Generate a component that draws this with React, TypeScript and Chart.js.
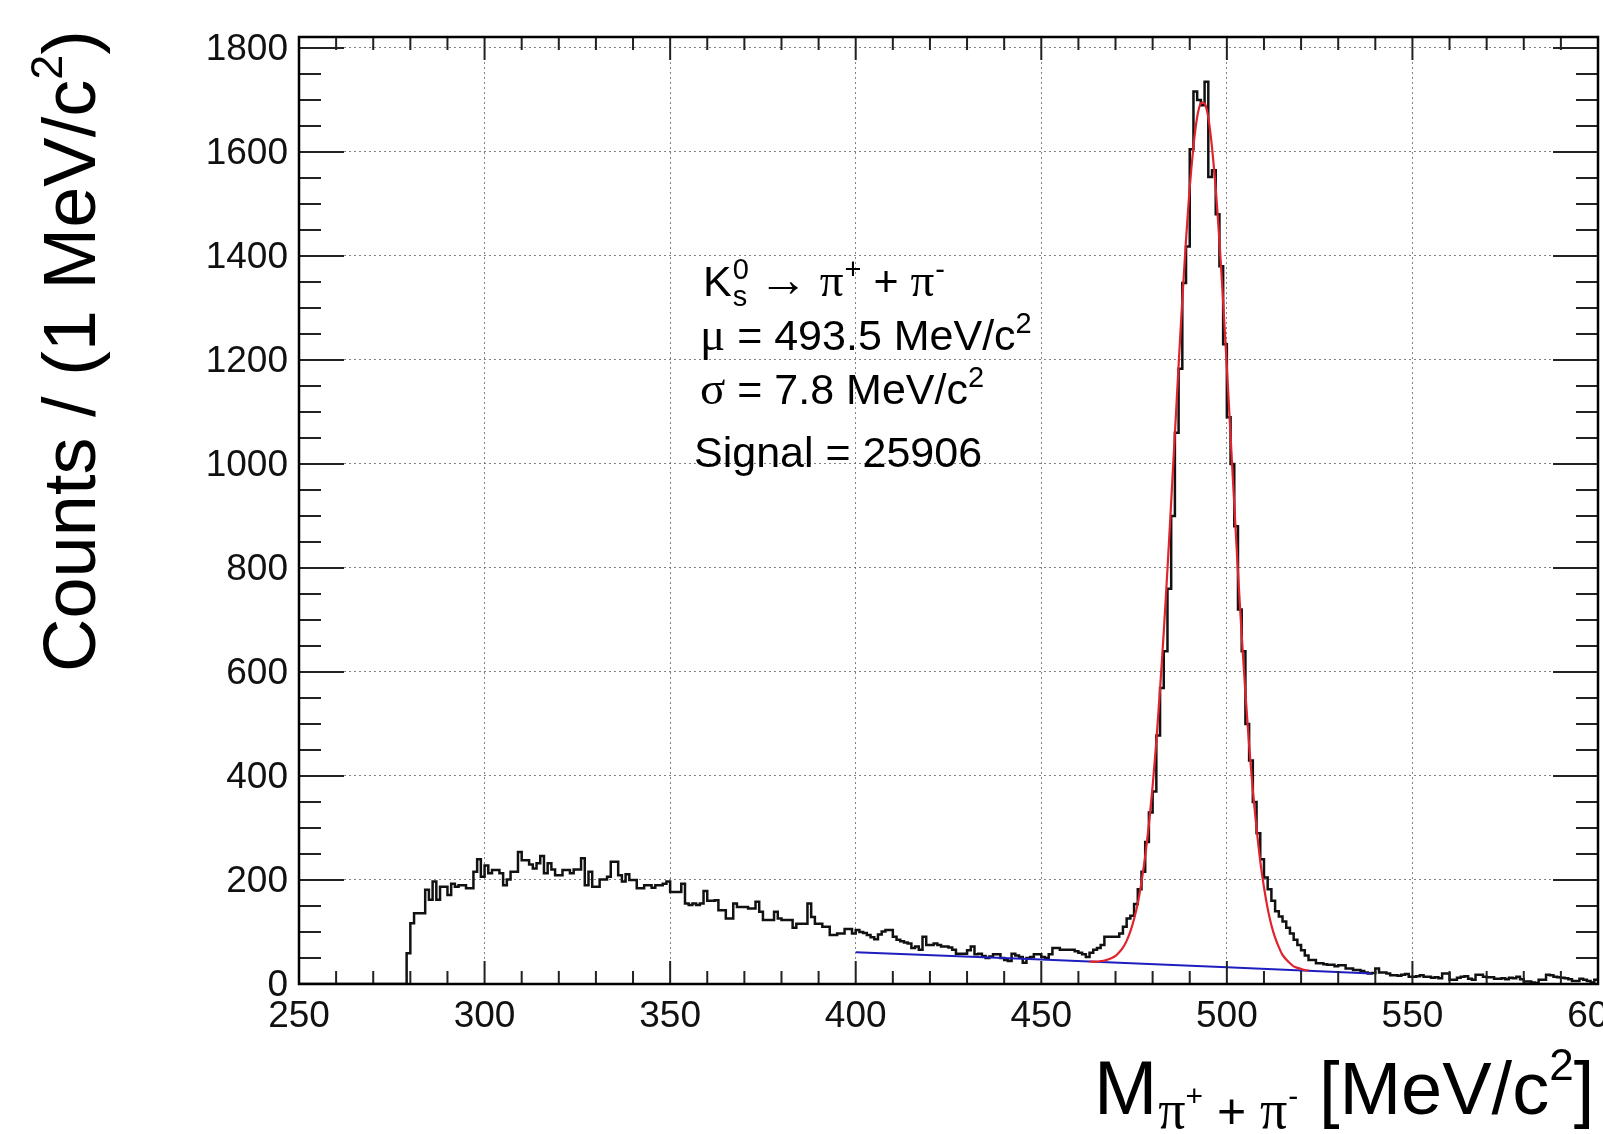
import React, { useEffect, useRef } from "react";
import { Chart, registerables } from "chart.js";

Chart.register(...registerables);

// ---------------- DATA ----------------
// Histogram: 1 MeV/c^2 bins, first bin starts at 250
const HIST_START = 250;
const BIN_WIDTH = 1;
const counts = [
  // 250-299
  0, 0, 0, 0, 0, 0, 0, 0, 0, 0,
  0, 0, 0, 0, 0, 0, 0, 0, 0, 0,
  0, 0, 0, 0, 0, 0, 0, 0, 0, 59,
  117, 136, 136, 136, 181, 162, 197, 162, 187, 187,
  171, 193, 187, 190, 190, 184, 184, 216, 240, 206,
  // 300-349
  228, 213, 219, 219, 213, 190, 201, 216, 216, 254,
  238, 238, 230, 222, 232, 246, 213, 232, 220, 209,
  209, 219, 219, 213, 220, 220, 242, 190, 216, 187,
  187, 201, 201, 206, 235, 235, 209, 197, 211, 200,
  200, 184, 184, 190, 190, 185, 190, 190, 193, 197,
  // 350-399
  177, 177, 177, 193, 155, 152, 155, 152, 155, 179,
  160, 160, 161, 142, 142, 126, 126, 155, 148, 148,
  148, 145, 145, 158, 139, 123, 123, 123, 139, 126,
  123, 123, 123, 108, 116, 116, 116, 155, 129, 116,
  116, 110, 110, 94, 94, 97, 97, 106, 106, 97,
  // 400-449
  104, 100, 98, 94, 90, 86, 95, 101, 104, 104,
  91, 85, 82, 80, 78, 69, 72, 66, 91, 75,
  75, 78, 75, 72, 72, 70, 66, 58, 58, 58,
  65, 72, 57, 58, 54, 50, 53, 57, 57, 50,
  46, 44, 58, 55, 52, 41, 50, 52, 57, 57,
  // 450-499
  52, 50, 57, 69, 69, 66, 66, 66, 66, 63,
  60, 57, 52, 60, 66, 69, 75, 91, 91, 91,
  91, 97, 110, 126, 131, 154, 182, 216, 273, 330,
  370, 478, 569, 640, 760, 900, 1060, 1183, 1348, 1418,
  1605, 1716, 1700, 1690, 1735, 1552, 1565, 1480, 1380, 1230,
  // 500-549
  1090, 1000, 880, 720, 640, 500, 430, 350, 290, 240,
  205, 182, 160, 140, 130, 120, 108, 97, 85, 75,
  65, 55, 46, 46, 40, 40, 38, 37, 37, 34,
  36, 36, 30, 30, 27, 27, 25, 22, 20, 21,
  30, 22, 22, 20, 17, 17, 16, 18, 19, 14,
  // 550-599
  14, 15, 17, 14, 14, 12, 13, 11, 20, 20,
  8, 8, 12, 14, 15, 10, 8, 18, 18, 14,
  13, 13, 10, 10, 11, 9, 12, 11, 14, 9,
  5, 5, 3, 2, 8, 8, 18, 17, 14, 13,
  12, 11, 9, 6, 6, 10, 8, 6, 3, 8,
];

// Signal + background fit curve (red), sampled every 1 MeV from 463
const FIT_START = 463;
const fitValues = [
  43, 43, 43, 44, 45, 47, 50, 54, 61, 70,
  83, 101, 125, 155, 196, 246, 307, 381, 467, 567,
  677, 798, 927, 1058, 1190, 1316, 1431, 1532, 1611, 1667,
  1694, 1694, 1666, 1609, 1530, 1429, 1312, 1186, 1054, 921,
  792, 671, 560, 459, 373, 299, 236, 186, 145, 113,
  89, 71, 56, 47, 40, 34, 31, 29, 27, 26,
];

// Background fit (blue)
const bkgMass = [400, 450, 500, 539];
const bkgValues = [61, 47, 32, 20];

// Axes
const X_MIN = 250;
const X_MAX = 600;
const Y_MIN = 0;
const Y_MAX = 1821;
const xTickLabels = [250, 300, 350, 400, 450, 500, 550, 600];
const yTickLabels = [0, 200, 400, 600, 800, 1000, 1200, 1400, 1600, 1800];
const X_MINOR_STEP = 10;
const Y_MINOR_STEP = 50;

// Texts
const fitMu = "493.5";
const fitSigma = "7.8";
const fitSignal = "25906";

const FONT = '"Liberation Sans", Arial, Helvetica, "DejaVu Sans", sans-serif';
const SERIF = '"Liberation Serif", "Times New Roman", "DejaVu Serif", serif';
const ARROW_FONT = '"Liberation Sans", "DejaVu Sans", sans-serif';

// ---------------- DRAW HELPERS ----------------
type Piece = { t: string; size: number; dy?: number; gap?: number; family?: string };

function drawPieces(ctx: CanvasRenderingContext2D, pieces: Piece[], x: number, y: number) {
  let cx = x;
  for (const p of pieces) {
    ctx.font = `${p.size}px ${p.family ?? FONT}`;
    cx += p.gap ?? 0;
    ctx.fillText(p.t, cx, y + (p.dy ?? 0));
    cx += ctx.measureText(p.t).width;
  }
  return cx;
}

const rootFramePlugin = {
  id: "rootFrame",
  afterDraw(chart: any) {
    const ctx: CanvasRenderingContext2D = chart.ctx;
    const a = chart.chartArea;
    const xs = chart.scales.x;
    const ys = chart.scales.y;
    ctx.save();

    // inner ticks on all four sides
    ctx.strokeStyle = "#222";
    ctx.lineWidth = 2;
    ctx.beginPath();
    for (let v = X_MIN; v <= X_MAX + 1e-6; v += X_MINOR_STEP) {
      const px = xs.getPixelForValue(v);
      const len = v % 50 === 0 ? 23 : 13;
      ctx.moveTo(px, a.bottom);
      ctx.lineTo(px, a.bottom - len);
      ctx.moveTo(px, a.top);
      ctx.lineTo(px, a.top + len);
    }
    for (let v = 0; v <= 1800 + 1e-6; v += Y_MINOR_STEP) {
      const py = ys.getPixelForValue(v);
      const len = v % 200 === 0 ? 45 : 22;
      ctx.moveTo(a.left, py);
      ctx.lineTo(a.left + len, py);
      ctx.moveTo(a.right, py);
      ctx.lineTo(a.right - len, py);
    }
    ctx.stroke();

    // frame
    ctx.strokeStyle = "#000";
    ctx.lineWidth = 2.5;
    ctx.strokeRect(a.left, a.top, a.right - a.left, a.bottom - a.top);

    // tick labels
    ctx.fillStyle = "#111";
    ctx.font = `37px ${FONT}`;
    ctx.textAlign = "right";
    ctx.textBaseline = "middle";
    yTickLabels.forEach((v) => ctx.fillText(String(v), a.left - 11, ys.getPixelForValue(v) + 2));
    ctx.textAlign = "center";
    ctx.textBaseline = "alphabetic";
    xTickLabels.forEach((v) => ctx.fillText(String(v), xs.getPixelForValue(v), a.bottom + 43));

    // annotation
    ctx.textAlign = "left";
    ctx.fillStyle = "#000";
    const F = 43;
    const FS = 29;
    const b1 = 296;
    ctx.font = `${F}px ${FONT}`;
    ctx.fillText("K", 703, b1);
    let cx = 703 + ctx.measureText("K").width + 1;
    ctx.font = `${FS}px ${FONT}`;
    ctx.fillText("0", cx, b1 - 17);
    ctx.fillText("s", cx, b1 + 10);
    cx += Math.max(ctx.measureText("0").width, ctx.measureText("s").width);
    drawPieces(
      ctx,
      [
        { t: "\u2192", size: F + 6, gap: 10, family: ARROW_FONT },
        { t: "\u03C0", size: F + 4, gap: 12, family: SERIF },
        { t: "+", size: FS, dy: -17, gap: 1 },
        { t: " + ", size: F },
        { t: "\u03C0", size: F + 4, family: SERIF },
        { t: "-", size: FS, dy: -17, gap: 1 },
      ],
      cx,
      b1
    );
    drawPieces(
      ctx,
      [
        { t: "\u03BC", size: F + 4, family: SERIF },
        { t: ` = ${fitMu} MeV/c`, size: F },
        { t: "2", size: FS, dy: -17 },
      ],
      700,
      350
    );
    drawPieces(
      ctx,
      [
        { t: "\u03C3", size: F + 4, family: SERIF },
        { t: ` = ${fitSigma} MeV/c`, size: F },
        { t: "2", size: FS, dy: -17 },
      ],
      700,
      404
    );
    drawPieces(ctx, [{ t: `Signal = ${fitSignal}`, size: F }], 694, 467);

    // x-axis title
    drawPieces(
      ctx,
      [
        { t: "M", size: 76 },
        { t: "\u03C0", size: 54, dy: 14, gap: 1, family: SERIF },
        { t: "+", size: 30, dy: -8 },
        { t: " + ", size: 50, dy: 14 },
        { t: "\u03C0", size: 54, dy: 14, family: SERIF },
        { t: "-", size: 30, dy: -8, gap: 1 },
        { t: " [MeV/c", size: 74 },
        { t: "2", size: 44, dy: -34 },
        { t: "]", size: 74 },
      ],
      1094,
      1114
    );

    // y-axis title (rotated)
    ctx.save();
    ctx.translate(95, 672);
    ctx.rotate(-Math.PI / 2);
    drawPieces(
      ctx,
      [
        { t: "Counts / (1 MeV/c", size: 74 },
        { t: "2", size: 45, dy: -33 },
        { t: ")", size: 74 },
      ],
      0,
      0
    );
    ctx.restore();

    ctx.restore();
  },
};

export default function App() {
  const canvasRef = useRef<HTMLCanvasElement | null>(null);

  useEffect(() => {
    const canvas = canvasRef.current;
    if (!canvas) return;

    // histogram outline: each bin drawn as a flat top from its low edge to its high edge
    const histPoints: { x: number; y: number }[] = [];
    counts.forEach((c, i) => {
      const lo = HIST_START + i * BIN_WIDTH;
      histPoints.push({ x: lo, y: c });
      histPoints.push({ x: lo + BIN_WIDTH, y: c });
    });
    const fitPoints = fitValues.map((v, i) => ({ x: FIT_START + i, y: v }));
    const bkgPoints = bkgMass.map((m, i) => ({ x: m, y: bkgValues[i] }));

    const chart = new Chart(canvas, {
      type: "line",
      data: {
        datasets: [
          {
            label: "data",
            data: histPoints,
            borderColor: "#111",
            borderWidth: 2.5,
            pointRadius: 0,
            fill: false,
            tension: 0,
            order: 3,
          },
          {
            label: "background",
            data: bkgPoints,
            borderColor: "rgb(30,30,190)",
            borderWidth: 2,
            pointRadius: 0,
            fill: false,
            tension: 0,
            order: 2,
          },
          {
            label: "fit",
            data: fitPoints,
            borderColor: "rgb(225,35,45)",
            borderWidth: 2.2,
            pointRadius: 0,
            fill: false,
            tension: 0.2,
            order: 1,
          },
        ],
      },
      options: {
        animation: false,
        responsive: false,
        devicePixelRatio: 1,
        layout: { padding: { left: 299, top: 37, right: 5, bottom: 150 } },
        plugins: { legend: { display: false }, tooltip: { enabled: false } },
        scales: {
          x: {
            type: "linear",
            min: X_MIN,
            max: X_MAX,
            afterBuildTicks: (scale: any) => {
              scale.ticks = xTickLabels.map((v) => ({ value: v }));
            },
            ticks: { display: false },
            grid: { color: "rgba(90,90,90,0.75)", lineWidth: 1, drawTicks: false },
            border: { display: false, dash: [2, 3] },
          },
          y: {
            type: "linear",
            min: Y_MIN,
            max: Y_MAX,
            afterBuildTicks: (scale: any) => {
              scale.ticks = yTickLabels.map((v) => ({ value: v }));
            },
            ticks: { display: false },
            grid: { color: "rgba(90,90,90,0.75)", lineWidth: 1, drawTicks: false },
            border: { display: false, dash: [2, 3] },
          },
        },
      } as any,
      plugins: [rootFramePlugin],
    });

    return () => chart.destroy();
  }, []);

  return (
    <div style={{ position: "absolute", left: 0, top: 0, width: 1603, height: 1134, background: "#fff" }}>
      <canvas ref={canvasRef} width={1603} height={1134} style={{ display: "block" }} />
    </div>
  );
}
